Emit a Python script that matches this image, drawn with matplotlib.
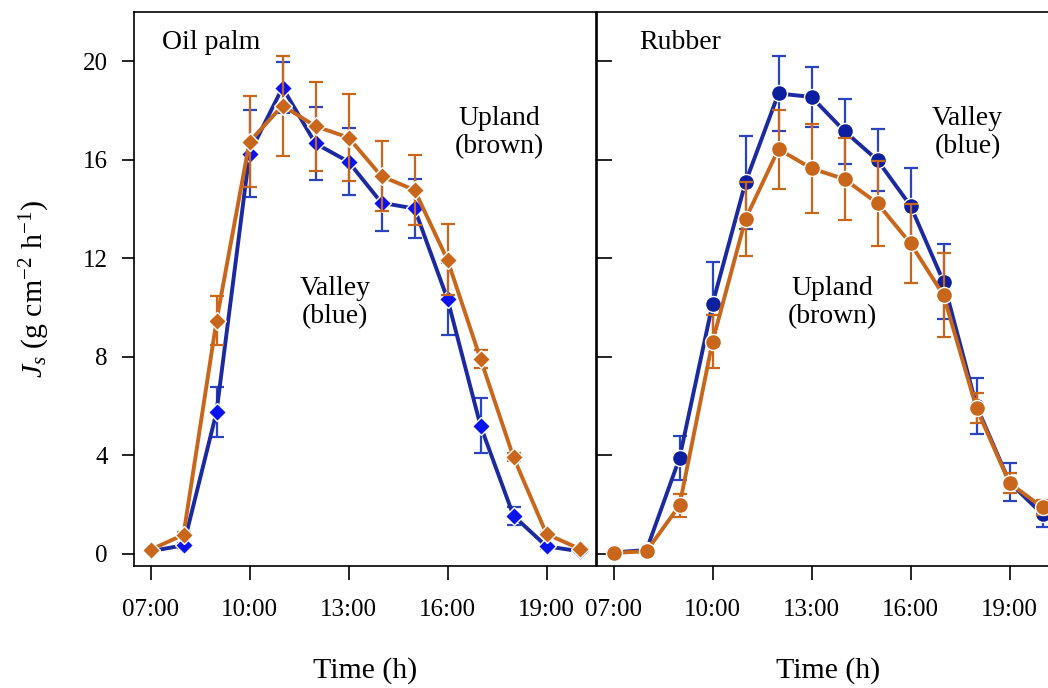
import matplotlib

matplotlib.use("Agg")
import matplotlib.pyplot as plt

plt.rcParams["font.family"] = ["Liberation Serif", "DejaVu Serif"]
plt.rcParams["mathtext.fontset"] = "custom"
plt.rcParams["mathtext.rm"] = "Liberation Serif"
plt.rcParams["mathtext.it"] = "Liberation Serif:italic"

hours = [7, 8, 9, 10, 11, 12, 13, 14, 15, 16, 17, 18, 19, 20]
tick_hours = [7, 10, 13, 16, 19]
tick_labels = ["07:00", "10:00", "13:00", "16:00", "19:00"]
y_ticks = [0, 4, 8, 12, 16, 20]

# oil palm
palm_valley = [0.1, 0.34, 5.75, 16.25, 18.93, 16.66, 15.92, 14.25, 14.02, 10.34, 5.2, 1.54, 0.3, 0.1]
palm_valley_se = [0.05, 0.1, 1.0, 1.77, 1.02, 1.47, 1.37, 1.15, 1.19, 1.46, 1.12, 0.37, 0.1, 0.05]
palm_upland = [0.16, 0.77, 9.46, 16.73, 18.2, 17.36, 16.9, 15.33, 14.77, 11.93, 7.91, 3.92, 0.8, 0.2]
palm_upland_se = [0.05, 0.1, 1.0, 1.85, 2.03, 1.8, 1.78, 1.42, 1.44, 1.44, 0.37, 0.15, 0.1, 0.05]

# rubber
rub_valley = [0.05, 0.15, 3.88, 10.14, 15.08, 18.69, 18.55, 17.16, 15.98, 14.13, 11.05, 6.0, 2.9, 1.6]
rub_valley_se = [0.05, 0.1, 0.89, 1.72, 1.89, 1.54, 1.22, 1.32, 1.25, 1.52, 1.51, 1.15, 0.78, 0.5]
rub_upland = [0.03, 0.1, 1.96, 8.61, 13.59, 16.43, 15.65, 15.21, 14.23, 12.6, 10.5, 5.91, 2.87, 1.88]
rub_upland_se = [0.05, 0.1, 0.48, 1.07, 1.5, 1.61, 1.8, 1.66, 1.72, 1.62, 1.71, 0.6, 0.4, 0.3]

BLUE_LINE = "#1b2aa0"
BLUE_DIAMOND = "#0a12ee"
BLUE_ERR = "#2a44c0"
BLUE_CIRCLE = "#0c1f9e"
BROWN = "#c8661c"


def _series(ax, y, se, line_color, face, err_color, marker, ms, z):
    ax.errorbar(hours, y, yerr=se, fmt="none", ecolor=err_color, elinewidth=1.6,
                capsize=5, capthick=1.6, zorder=z)
    ax.plot(hours, y, color=line_color, lw=2.8, marker=marker, ms=ms,
            markerfacecolor=face, markeredgecolor="white", markeredgewidth=1.0, zorder=z + 1)


def _style(ax, left):
    ax.set_xlim(6.5, 20.5)
    ax.set_ylim(-0.5, 22)
    ax.set_xticks(tick_hours)
    ax.set_xticklabels(tick_labels)
    ax.set_yticks(y_ticks)
    for s in ax.spines.values():
        s.set_linewidth(1.2)
    ax.tick_params(axis="x", direction="out", length=10, width=1.2, pad=14, labelsize=18)
    if left:
        ax.tick_params(axis="y", direction="out", length=9, width=1.2, pad=10, labelsize=18)
    else:
        ax.tick_params(axis="y", direction="in", length=11, width=1.2, labelleft=False)
    ax.set_xlabel("Time (h)", fontsize=21.5, labelpad=26)


fig = plt.figure(figsize=(10.48, 6.88), dpi=100)
ax1 = fig.add_axes([134 / 1048, 122 / 688, 462 / 1048, 554 / 688])
ax2 = fig.add_axes([597 / 1048, 122 / 688, 462 / 1048, 554 / 688])

_series(ax1, palm_valley, palm_valley_se, BLUE_LINE, BLUE_DIAMOND, BLUE_ERR, "D", 9, 2)
_series(ax1, palm_upland, palm_upland_se, BROWN, BROWN, BROWN, "D", 9, 4)
_series(ax2, rub_valley, rub_valley_se, BLUE_LINE, BLUE_CIRCLE, BLUE_ERR, "o", 11.5, 2)
_series(ax2, rub_upland, rub_upland_se, BROWN, BROWN, BROWN, "o", 11.5, 4)

_style(ax1, True)
_style(ax2, False)
ax1.set_ylabel(r"$J_s$ (g cm$^{-2}$ h$^{-1}$)", fontsize=21.5, labelpad=22)

ax1.text(7.36, 20.77, "Oil palm", fontsize=20, ha="left", va="center")
ax1.text(17.58, 17.1, "Upland\n(brown)", fontsize=20, ha="center", va="center")
ax1.text(12.6, 10.2, "Valley\n(blue)", fontsize=20, ha="center", va="center")
ax2.text(7.79, 20.77, "Rubber", fontsize=20, ha="left", va="center")
ax2.text(17.73, 17.1, "Valley\n(blue)", fontsize=20, ha="center", va="center")
ax2.text(13.64, 10.2, "Upland\n(brown)", fontsize=20, ha="center", va="center")

fig.savefig("out.png", dpi=100)
